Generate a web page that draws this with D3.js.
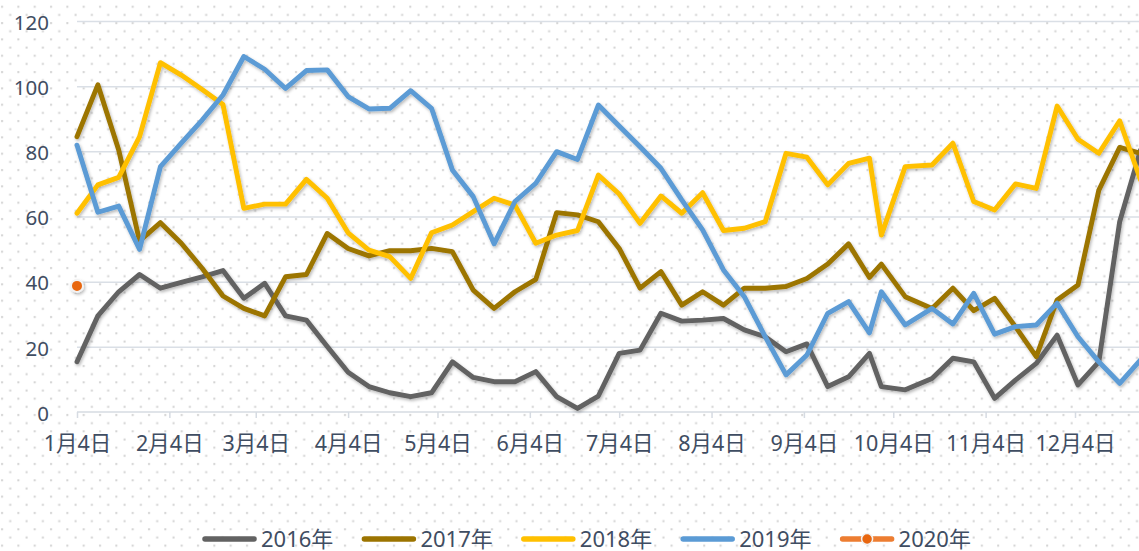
<!DOCTYPE html>
<html>
<head>
<meta charset="utf-8">
<script src="https://cdn.jsdelivr.net/npm/d3@7"></script>
<style>
  html, body { margin: 0; padding: 0; background: #fff; }
  svg { display: block; }
  text { font-family: "Noto Sans", "Noto Sans CJK SC", sans-serif; fill: #3f4d62; }
</style>
</head>
<body>
<script>
// weekly dates (shared by all years, plotted on a 2016 calendar)
var weekDates = [
    "01-04", "01-11", "01-18", "01-25", "02-01", "02-08", "02-15", "02-22", "02-29",
    "03-07", "03-14", "03-21", "03-28", "04-04", "04-11", "04-18", "04-25", "05-02",
    "05-09", "05-16", "05-23", "05-30", "06-06", "06-13", "06-20", "06-27", "07-04",
    "07-11", "07-18", "07-25", "08-01", "08-08", "08-15", "08-22", "08-29", "09-05",
    "09-12", "09-19", "09-26", "09-30", "10-08", "10-17", "10-24", "10-31", "11-07",
    "11-14", "11-21", "11-28", "12-05", "12-12", "12-19", "12-26"
];

var tickDates = ["01-04", "02-04", "03-04", "04-04", "05-04", "06-04",
                 "07-04", "08-04", "09-04", "10-04", "11-04", "12-04"];
var tickLabels = ["1月4日", "2月4日", "3月4日", "4月4日", "5月4日", "6月4日",
                  "7月4日", "8月4日", "9月4日", "10月4日", "11月4日", "12月4日"];

var yTicks = [0, 20, 40, 60, 80, 100, 120];

var seriesNames = ["2016年", "2017年", "2018年", "2019年", "2020年"];

var v2016 = [15.4, 29.5, 36.9, 42.2, 38.0, 39.8, 41.5, 43.4, 34.9, 39.5, 29.5, 28.2, 20.1,
             12.2, 7.8, 5.9, 4.7, 5.9, 15.4, 10.6, 9.3, 9.3, 12.4, 4.7, 1.1, 4.9,
             18.0, 19.0, 30.3, 27.9, 28.2, 28.7, 25.2, 23.1, 18.5, 20.9, 7.8, 10.8, 18.0,
             7.8, 6.8, 10.3, 16.5, 15.4, 4.2, 9.8, 14.9, 23.6, 8.3, 15.4, 58.4, 80.4];

var v2017 = [84.5, 100.4, 80.4, 52.5, 58.1, 51.8, 44.1, 35.6, 31.8, 29.5, 41.5, 42.2, 54.8,
             50.2, 47.9, 49.5, 49.5, 50.2, 49.2, 37.4, 31.8, 36.9, 40.7, 61.2, 60.5, 58.4,
             50.2, 38.0, 43.1, 32.8, 36.9, 32.8, 38.0, 38.0, 38.5, 41.0, 45.4, 51.6, 41.3,
             45.4, 35.4, 31.8, 38.0, 31.1, 34.9, 26.2, 17.0, 34.4, 39.0, 68.1, 81.2, 79.4];

var v2018 = [61.0, 69.7, 72.0, 84.5, 107.2, 103.4, 99.0, 94.4, 62.5, 63.8, 63.8, 71.4, 65.6,
             55.0, 49.7, 47.7, 41.0, 55.0, 57.4, 61.5, 65.6, 63.5, 51.8, 54.3, 55.7, 72.7,
             66.9, 57.9, 66.3, 61.0, 67.3, 55.7, 56.4, 58.4, 79.4, 78.2, 69.7, 76.3, 77.9,
             54.3, 75.3, 75.8, 82.5, 64.6, 62.0, 70.0, 68.6, 93.9, 83.7, 79.4, 89.4, 71.2];

var v2019 = [81.9, 61.3, 63.2, 49.9, 75.3, 82.5, 89.6, 97.3, 109.1, 105.2, 99.3, 104.8, 105.0,
             96.8, 93.0, 93.2, 98.6, 93.2, 74.3, 66.1, 51.6, 64.6, 70.2, 79.9, 77.5, 94.2,
             87.8, 81.4, 74.8, 65.1, 55.9, 43.6, 35.4, 23.1, 11.4, 17.5, 30.3, 33.9, 24.3,
             36.9, 26.7, 31.8, 27.0, 36.4, 23.9, 26.2, 26.7, 33.4, 23.1, 15.4, 8.8, 16.0];

var v2020 = [38.7];

var colors = ["#626262", "#9c7400", "#ffc000", "#5b9bd5", "#ed7d31"];


function show_chart(width, height) {
    var parseDay = function(s) { return d3.timeParse("%Y-%m-%d")("2016-" + s); };

    var svg = d3.select("body").append("svg")
                .attr("width", width)
                .attr("height", height);

    var defs = svg.append("defs");

    // dotted background
    var pat = defs.append("pattern")
                  .attr("id", "dots")
                  .attr("patternUnits", "userSpaceOnUse")
                  .attr("x", 504.3).attr("y", 460)
                  .attr("width", 16.33).attr("height", 16.33);
    pat.append("rect").attr("x", 3).attr("y", 3).attr("width", 2).attr("height", 2).attr("fill", "#d2d2d2");
    pat.append("rect").attr("x", 11.16).attr("y", 11.16).attr("width", 2).attr("height", 2).attr("fill", "#d2d2d2");

    // soft shadow under the lines
    var f = defs.append("filter").attr("id", "shadow")
                .attr("x", "-5%").attr("y", "-5%").attr("width", "110%").attr("height", "115%");
    f.append("feDropShadow")
     .attr("dx", 1.2).attr("dy", 1.8).attr("stdDeviation", 1.4)
     .attr("flood-color", "#000").attr("flood-opacity", 0.28);

    svg.append("rect").attr("width", width).attr("height", height).attr("fill", "#fff");
    svg.append("rect").attr("width", width).attr("height", height).attr("fill", "url(#dots)");

    // scales
    var x = d3.scaleTime()
              .domain([parseDay("01-04"), parseDay("12-04")])
              .range([77, 1075]);

    var y = d3.scaleLinear()
              .domain([0, 120])
              .range([412, 21]);

    // gridlines
    var grid = svg.append("g")
                  .attr("transform", "translate(77,0)")
                  .call(d3.axisLeft(y).tickValues(yTicks.slice(1)).tickSize(-(x(parseDay("12-26")) - 77 + 4)).tickFormat(""));
    grid.select(".domain").remove();
    grid.selectAll("line").attr("stroke", "#dadfe6").attr("stroke-width", 1.5);

    // y axis labels
    var yAxis = svg.append("g")
                   .attr("transform", "translate(77,0)")
                   .call(d3.axisLeft(y).tickValues(yTicks).tickSize(0).tickPadding(28));
    yAxis.select(".domain").remove();
    yAxis.selectAll("text")
         .attr("dy", "0.4em")
         .style("font-size", "20.5px")
         .attr("fill", "#3f4d62");

    // x axis
    var xAxis = svg.append("g")
                   .attr("transform", "translate(0,412)")
                   .call(d3.axisBottom(x)
                           .tickValues(tickDates.map(parseDay))
                           .tickSize(6)
                           .tickPadding(18)
                           .tickFormat(function(d, i) { return tickLabels[i]; }));
    xAxis.select(".domain")
         .attr("d", "M77,0H" + (width + 5))
         .attr("stroke", "#d6dbe2").attr("stroke-width", 1.5);
    xAxis.selectAll("line").attr("stroke", "#d6dbe2").attr("stroke-width", 1.5);
    xAxis.selectAll("text")
         .style("font-size", "21.5px")
         .attr("fill", "#3f4d62");

    // lines
    var allValues = [v2016, v2017, v2018, v2019, v2020];
    var line = d3.line()
                 .x(function(d, i) { return x(parseDay(weekDates[i])); })
                 .y(function(d) { return y(d); });

    var lines = svg.append("g").attr("filter", "url(#shadow)");
    allValues.forEach(function(vals, s) {
        if (vals.length > 1) {
            lines.append("path")
                 .attr("d", line(vals))
                 .attr("fill", "none")
                 .attr("stroke", colors[s])
                 .attr("stroke-width", 4.9)
                 .attr("stroke-linejoin", "round")
                 .attr("stroke-linecap", "round");
        }
    });

    // 2020 marker(s)
    lines.selectAll("circle.m2020")
         .data(v2020)
         .enter()
         .append("circle")
         .attr("class", "m2020")
         .attr("cx", function(d, i) { return x(parseDay(weekDates[i])); })
         .attr("cy", function(d) { return y(d); })
         .attr("r", 6)
         .attr("fill", "#e8660f")
         .attr("stroke", "#f2f2f2")
         .attr("stroke-width", 2);

    // legend
    var legend = svg.append("g").attr("transform", "translate(202,539)");
    var item = legend.selectAll("g")
                     .data(seriesNames)
                     .enter()
                     .append("g")
                     .attr("transform", function(d, i) { return "translate(" + (i * 159.4) + ",0)"; });

    item.append("line")
        .attr("x1", 3).attr("x2", 52)
        .attr("y1", 0).attr("y2", 0)
        .attr("stroke", function(d, i) { return colors[i]; })
        .attr("stroke-width", 5.5)
        .attr("stroke-linecap", "round");

    item.filter(function(d, i) { return i === 4; })
        .append("circle")
        .attr("cx", 27.5).attr("cy", 0).attr("r", 5.5)
        .attr("fill", "#e8660f")
        .attr("stroke", "#f2f2f2")
        .attr("stroke-width", 1.5);

    item.append("text")
        .attr("x", 59)
        .attr("y", 7.5)
        .style("font-size", "22px")
        .text(function(d) { return d; });
}

var width = 1139;
var height = 551;

document.addEventListener("DOMContentLoaded", show_chart(width, height));
</script>
</body>
</html>
